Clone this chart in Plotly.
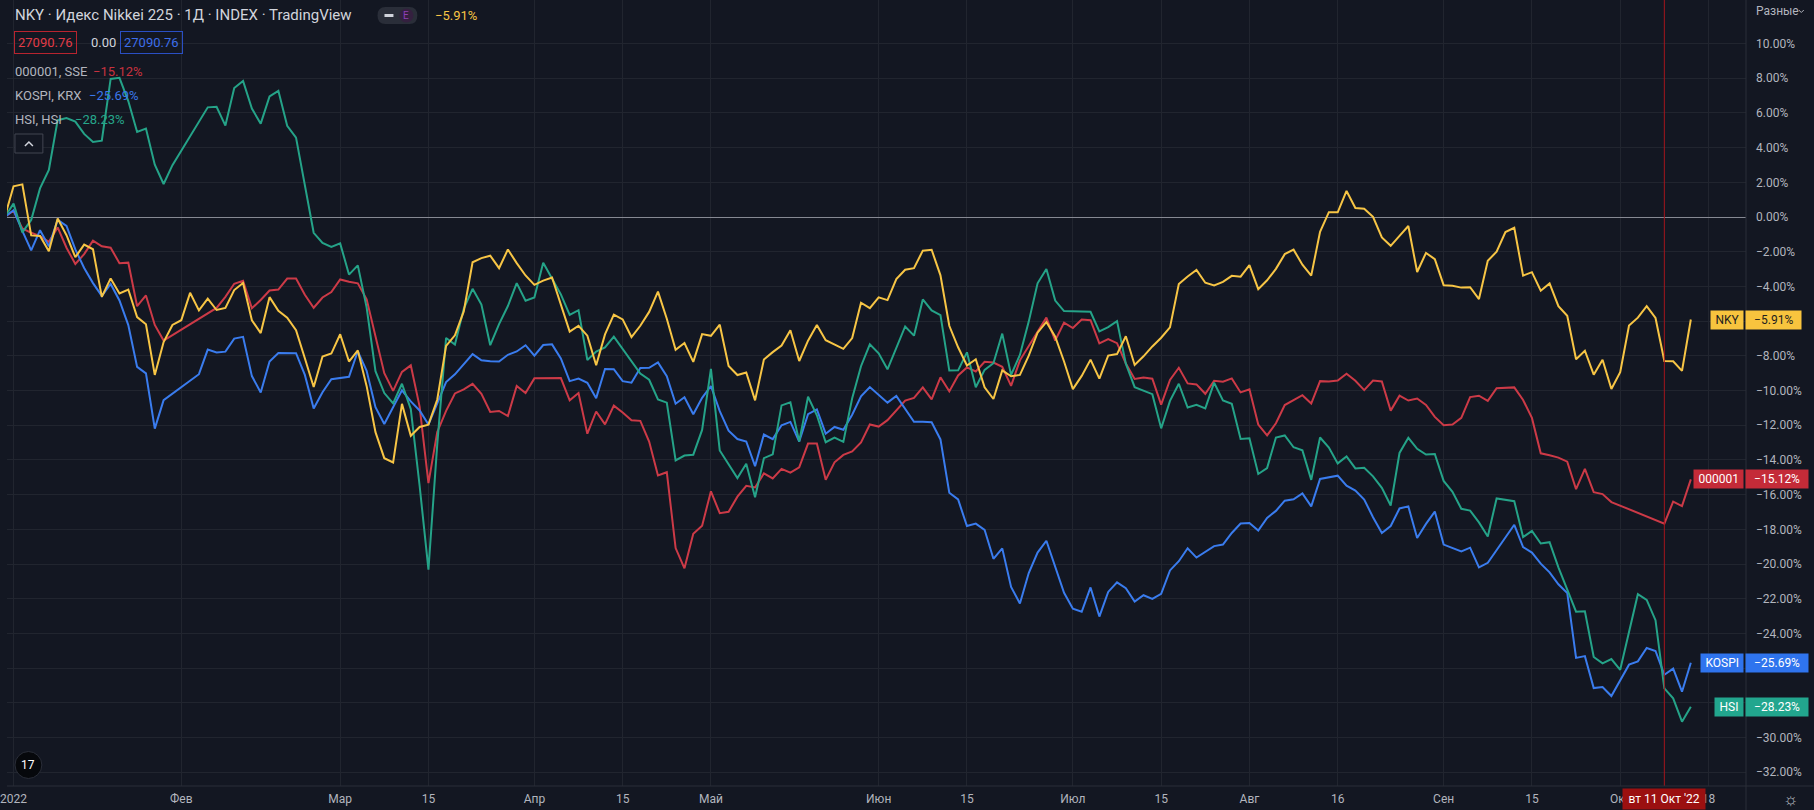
import plotly.graph_objects as go
import pandas as pd

W, H = 1814, 810
PLOT_W, PLOT_H = 1746, 786
FONT = "Roboto, 'Noto Sans', sans-serif"

# Japanese exchange closures (the time scale follows the main symbol NKY)
JP_HOLIDAYS = ["2021-12-31", "2022-01-03", "2022-01-10", "2022-02-11", "2022-02-23",
               "2022-03-21", "2022-04-29", "2022-05-03", "2022-05-04", "2022-05-05",
               "2022-07-18", "2022-08-11", "2022-09-19", "2022-09-23", "2022-10-10"]
DATES = [d.strftime("%Y-%m-%d") for d in
         pd.bdate_range("2021-12-30", "2022-10-14", freq="C", holidays=JP_HOLIDAYS)]

# % change vs first bar (None = market closed that day)
NKY = [0.00, 1.77, 1.88, -1.06, -1.09, -1.98, -0.09, -1.05, -2.32, -1.59,
       -1.86, -4.60, -3.54, -4.41, -4.18, -5.77, -6.18, -9.10, -7.21, -6.22,
       -5.95, -4.37, -5.38, -4.70, -5.36, -5.24, -4.21, -3.80, -5.95, -6.69,
       -4.62, -5.41, -5.80, -6.53, -8.14, -9.80, -8.04, -7.87, -6.76, -8.33,
       -7.69, -9.75, -12.40, -13.90, -14.15, -10.77, -12.61, -12.10, -11.97, -10.52,
       -7.43, -6.82, -5.44, -2.61, -2.37, -2.23, -2.95, -1.87, -2.66, -3.37,
       -3.91, -3.67, -3.49, -5.01, -6.61, -6.27, -6.84, -8.54, -6.77, -5.63,
       -5.90, -6.92, -6.27, -5.47, -4.30, -5.86, -7.65, -7.26, -8.35, -6.75,
       -6.85, -6.21, -8.59, -9.11, -8.96, -10.57, -8.21, -7.79, -7.41, -6.53,
       -8.30, -7.13, -6.22, -7.10, -7.34, -7.60, -6.98, -4.94, -5.25, -4.63,
       -4.79, -3.58, -3.04, -2.95, -1.94, -1.89, -3.36, -6.27, -7.51, -8.56,
       -8.20, -9.82, -10.49, -8.84, -9.18, -9.10, -7.99, -6.67, -6.05, -6.90,
       -8.33, -9.92, -9.16, -8.22, -9.32, -7.99, -7.90, -6.87, -8.53, -8.03,
       -7.46, -6.96, -6.36, -3.86, -3.43, -3.05, -3.79, -3.95, -3.74, -3.39,
       -3.44, -2.77, -4.16, -3.65, -2.99, -2.14, -1.88, -2.75, -3.38, -0.85,
       0.28, 0.27, 1.50, 0.52, 0.48, 0.01, -1.18, -1.66, -1.09, -0.52,
       -3.17, -2.07, -2.43, -3.93, -3.96, -4.07, -4.05, -4.73, -2.52, -2.00,
       -0.87, -0.62, -3.38, -3.18, -4.25, -3.83, -5.14, -5.69, -8.20, -7.71,
       -9.09, -8.23, -9.91, -8.95, -6.25, -5.80, -5.14, -5.82, -8.30, -8.32,
       -8.87, -5.91]

SSE = [0.00, 0.36, -0.66, -0.91, -1.10, -1.43, -0.60, -1.77, -2.71, -2.14,
       -1.36, -1.69, -1.77, -2.67, -2.63, -5.14, -4.52, -6.22, -7.12, None,
       None, None, None, None, -5.24, -4.60, -3.85, -3.68, -5.26, -4.78,
       -4.24, -4.18, -3.55, -3.55, -4.48, -5.23, -4.64, -4.33, -3.60, -3.73,
       -3.82, -4.74, -6.81, -9.00, -10.02, -8.93, -8.55, -10.93, -15.34, -12.39,
       -11.17, -10.17, -9.93, -9.62, -10.19, -11.24, -11.18, -11.47, -9.74, -10.14,
       -9.30, None, None, -9.28, -10.57, -10.15, -12.49, -11.21, -11.95, -10.87,
       -11.27, -11.71, -11.75, -12.94, -14.90, -14.71, -19.08, -20.25, -18.26, -17.79,
       -15.81, -17.07, -16.99, -16.12, -15.49, -15.59, -14.78, -15.07, -14.52, -14.73,
       -14.43, -13.06, -13.05, -15.15, -14.14, -13.71, -13.51, -12.99, -11.96, -12.08,
       -11.71, None, -10.58, -10.43, -9.82, -10.51, -9.24, -10.05, -9.13, -8.67,
       -8.90, -8.35, -8.39, -8.63, -9.73, -8.26, -7.45, -6.63, -5.80, -7.12,
       -6.09, -6.40, -5.91, -5.95, -7.29, -7.04, -7.27, -8.44, -9.33, -9.25,
       -9.32, -10.81, -9.39, -8.69, -9.59, -9.65, -10.19, -9.44, -9.49, -9.30,
       -10.11, -9.93, -11.96, -12.59, -11.89, -10.84, -10.56, -10.27, -10.75, -9.46,
       -9.48, -9.43, -9.03, -9.44, -9.98, -9.43, -9.48, -11.16, -10.30, -10.58,
       -10.46, -10.83, -11.52, -12.00, -11.96, -11.58, -10.38, -10.30, -10.60, -9.87,
       None, -9.82, -10.55, -11.58, -13.62, -13.73, -13.87, -14.10, -15.69, -14.52,
       -15.86, -15.97, -16.43, None, None, None, None, None, -17.67, -16.40,
       -16.66, -15.12]

KOSPI = [0.00, 0.39, -0.80, -1.92, -0.76, -1.69, -0.17, -0.52, -1.87, -2.94,
         -3.81, -4.55, -3.86, -4.81, -6.23, -8.64, -9.01, -12.20, -10.56, None,
         None, None, -9.06, -7.64, -7.81, -7.76, -7.01, -6.91, -9.17, -10.11,
         -8.33, -7.84, -7.83, -7.85, -9.10, -11.04, -10.10, -9.35, None, -9.21,
         -7.74, -8.87, -10.96, -11.93, None, -9.99, -10.63, -11.15, -11.96, -10.69,
         -9.51, -9.07, -8.50, -7.90, -8.26, -8.32, -8.33, -7.94, -7.75, -7.39,
         -7.99, -7.38, -7.34, -8.15, -9.46, -9.31, -9.56, -10.44, -8.76, -8.77,
         -9.46, -9.55, -8.70, -8.69, -8.38, -9.17, -10.76, -10.39, -11.37, -10.42,
         -9.74, -11.19, -12.32, -12.80, -12.94, -14.36, -12.54, -12.80, -12.00, -11.81,
         -12.94, -11.36, -11.09, -12.49, -12.10, -12.26, -11.40, -10.34, -9.80, None,
         -10.70, -10.31, None, -11.80, -11.80, -11.83, -12.82, -15.89, -16.28, -17.81,
         -17.67, -18.03, -19.70, -19.10, -21.32, -22.28, -20.52, -19.34, -18.66, -20.14,
         -21.66, -22.58, -22.75, -21.35, -23.03, -21.61, -21.06, -21.40, -22.16, -21.80,
         -22.01, -21.72, -20.37, -19.84, -19.09, -19.63, -19.28, -18.97, -18.88, -18.21,
         -17.67, -17.64, -18.07, -17.34, -16.94, -16.35, -16.27, -15.93, -16.68, -15.10,
         None, -14.91, -15.49, -15.77, -16.29, -17.30, -18.21, -17.81, -16.80, -16.68,
         -18.50, -17.69, -16.98, -18.88, -19.08, -19.28, -19.06, -20.19, -19.93, None,
         None, -17.74, -19.02, -19.34, -19.98, -20.48, -21.17, -21.67, -25.41, -25.31,
         -27.15, -27.09, -27.61, None, -25.80, -25.61, -24.84, -25.01, -26.38, -26.03,
         -27.36, -25.69]

HSI = [0.00, 0.77, -0.89, -0.17, 1.65, 2.71, 5.58, 5.70, 5.50, 4.79,
       4.33, 4.40, 7.96, 8.02, 6.68, 4.90, 5.10, 3.01, 1.90, 2.99,
       None, None, None, 6.32, 6.35, 5.27, 7.43, 7.84, 6.25, 5.38,
       6.95, 7.27, 5.26, 4.58, 1.77, -0.91, -1.49, -1.73, -1.52, -3.32,
       -2.79, -5.22, -8.89, -10.15, -10.75, -9.61, -11.07, -15.49, -20.32, -13.09,
       -6.97, -7.35, -5.29, -4.14, -5.05, -7.39, -6.17, -5.13, -3.81, -4.83,
       -4.64, -2.64, None, -4.46, -5.64, -5.37, -8.24, -7.76, -7.52, -6.90,
       None, None, -9.02, -9.38, -10.51, -10.70, -14.03, -13.75, -13.70, -12.27,
       -8.75, -13.46, None, -15.05, -14.22, -16.15, -13.90, -13.68, -10.86, -10.68,
       -12.94, -10.36, -11.43, -12.98, -12.72, -12.96, -10.45, -8.60, -7.34, -7.86,
       -8.78, None, -6.31, -6.84, -4.75, -5.38, -5.65, -8.85, -8.84, -7.80,
       -9.81, -8.81, -8.43, -6.72, -9.10, -7.95, -6.03, -3.82, -3.00, -4.82,
       -5.42, None, -5.45, -5.46, -6.60, -6.35, -6.00, -8.45, -9.81, -10.01,
       -10.21, -12.18, -10.60, -9.61, -10.98, -10.83, -11.03, -9.55, -10.57, -10.77,
       -12.79, -12.75, -14.81, -14.47, -12.71, -12.59, -13.27, -13.45, -15.15, -12.71,
       -13.29, -14.20, -13.80, -14.49, -14.45, -14.95, -15.61, -16.63, -13.60, -12.73,
       -13.36, -13.69, -13.66, -15.21, -15.84, -16.82, -16.92, -17.60, -18.42, -16.22,
       None, -16.38, -18.45, -18.09, -18.82, -18.74, -20.19, -21.48, -22.75, -22.72,
       -25.36, -25.73, -25.48, -26.10, None, -21.74, -22.07, -23.24, -27.17, -27.74,
       -29.09, -28.23]

TICK_DATES = ["2022-01-04", "2022-02-01", "2022-03-01", "2022-03-15", "2022-04-01",
              "2022-04-15", "2022-05-02", "2022-06-01", "2022-06-15", "2022-07-01",
              "2022-07-15", "2022-08-01", "2022-08-16", "2022-09-01", "2022-09-15",
              "2022-10-03", "2022-10-18"]
TICK_TEXT = ["2022", "Фев", "Мар", "15", "Апр", "15", "Май", "Июн", "15", "Июл",
             "15", "Авг", "16", "Сен", "15", "Окт", "18"]
Y_TICKS = list(range(-32, 11, 2))
Y_RANGE = [-32.795, 12.507]
X_RANGE = ["2021-12-30 06:14", "2022-10-24 06:00"]
CROSSHAIR_DATE = "2022-10-11"
CROSSHAIR_TEXT = "вт 11 Окт '22"

# name, values, line colour, label colour, label text colour
SERIES = [
    ("000001", SSE, "#CC3A47", "#C42B38", "#FFFFFF"),
    ("KOSPI", KOSPI, "#3A7CEE", "#2F74EE", "#FFFFFF"),
    ("HSI", HSI, "#25A388", "#22A68E", "#FFFFFF"),
    ("NKY", NKY, "#F7C545", "#F8C43E", "#1E1E1E"),
]

BG = "#131722"
GRID = "#21252f"
AXIS_TXT = "#B2B5BE"


def fmt(v):
    return ("\u2212" if v < 0 else "") + f"{abs(v):.2f}%"


def P(px):
    return px / PLOT_W


def Q(py):
    return 1 - py / PLOT_H


fig = go.Figure()
for name, vals, col, _, _ in SERIES:
    fig.add_trace(go.Scatter(x=DATES, y=vals, mode="lines", connectgaps=True,
                             line=dict(color=col, width=2), hoverinfo="skip", name=name))

ann = []


def A(text, x, y, size=12, color=AXIS_TXT, xanchor="left", yanchor="middle", **kw):
    d = dict(text=text, x=P(x), y=Q(y), xref="paper", yref="paper", showarrow=False,
             font=dict(family=FONT, size=size, color=color), xanchor=xanchor, yanchor=yanchor)
    d.update(kw)
    ann.append(d)


# header
A("NKY · Идекс Nikkei 225 · 1Д · INDEX · TradingView", 6, 15.5, size=15, color="#D1D4DC")
A(fmt(NKY[-1]), 428, 15.5, size=13, color="#F7C545")
nky_close = "27090.76"
A(nky_close, 7, 43, size=13, color="#E23B47", bordercolor="#B8242F", borderwidth=1, borderpad=3)
A("0.00", 82, 43, size=13, color="#D1D4DC")
A(nky_close, 113, 43, size=13, color="#3D6EEA", bordercolor="#2A4FC4", borderwidth=1, borderpad=3)
legend_rows = [("000001, SSE", SSE, "#C8323F", 71.5, 84),
               ("KOSPI, KRX", KOSPI, "#3B78EA", 95.5, 80),
               ("HSI, HSI", HSI, "#26A68A", 119, 66)]
for label, vals, col, yy, xv in legend_rows:
    A(label, 6, yy, size=13, color="#B2B5BE")
    A(fmt(vals[-1]), xv, yy, size=13, color=col)

A("Разные", 1754, 11, size=12, color=AXIS_TXT)
A("E", 401, 15.5, size=10, color="#8E3FB5", xanchor="center")
A("17", 21.5, 765, size=12, color="#FFFFFF", xanchor="center")
A("\u263c", 1791, 799, size=17, color=AXIS_TXT, xanchor="center")
A("\u2009" + CROSSHAIR_TEXT + "\u2009", 1664, 799, size=12, color="#FFFFFF", xanchor="center",
  bgcolor="#9B1010", borderpad=3)

# last-value labels on the price scale
for name, vals, col, lab, txt in SERIES:
    v = vals[-1]
    ann.append(dict(text="\u2009" + name + "\u2009", x=P(1744), y=v, xref="paper", yref="y",
                    showarrow=False, xanchor="right", yanchor="middle", bgcolor=lab, borderpad=2,
                    font=dict(family=FONT, size=12, color=txt)))
    ann.append(dict(text="\u2002" + fmt(v) + "\u2002", x=P(1745), y=v, xref="paper", yref="y",
                    showarrow=False, xanchor="left", yanchor="middle", bgcolor=lab, borderpad=2,
                    font=dict(family=FONT, size=12, color=txt)))

shapes = [
    dict(type="line", xref="x", yref="paper", x0=CROSSHAIR_DATE, x1=CROSSHAIR_DATE,
         y0=0, y1=1, line=dict(color="#A3161D", width=1)),
    dict(type="line", xref="paper", yref="paper", x0=0, x1=W / PLOT_W, y0=0, y1=0,
         line=dict(color="#2A2E39", width=1)),
    dict(type="line", xref="paper", yref="paper", x0=1, x1=1, y0=Q(H), y1=1,
         line=dict(color="#2A2E39", width=1)),
    # dropdown chevron next to "Разные"
    dict(type="path", xref="paper", yref="paper",
         path=f"M {P(1799)} {Q(10)} L {P(1801.5)} {Q(12.5)} L {P(1804)} {Q(10)}",
         line=dict(color=AXIS_TXT, width=1)),
    # visibility pill
    dict(type="path", xref="paper", yref="paper",
         path=f"M {P(380)} {Q(7)} L {P(404)} {Q(7)} Q {P(412)} {Q(7)} {P(412)} {Q(15.5)} "
              f"Q {P(412)} {Q(24)} {P(404)} {Q(24)} L {P(380)} {Q(24)} "
              f"Q {P(372)} {Q(24)} {P(372)} {Q(15.5)} Q {P(372)} {Q(7)} {P(380)} {Q(7)} Z",
         fillcolor="#2A2E39", line=dict(width=0)),
    dict(type="rect", xref="paper", yref="paper", x0=P(379), x1=P(388), y0=Q(17), y1=Q(14),
         fillcolor="#D1D4DC", line=dict(width=0)),
    dict(type="circle", xref="paper", yref="paper", x0=P(394), x1=P(408), y0=Q(22.5), y1=Q(8.5),
         fillcolor="#34203F", line=dict(width=0)),
    # collapse button
    dict(type="rect", xref="paper", yref="paper", x0=P(8), x1=P(36), y0=Q(153), y1=Q(134),
         fillcolor=BG, line=dict(color="#434651", width=1)),
    dict(type="path", xref="paper", yref="paper",
         path=f"M {P(18)} {Q(146)} L {P(22)} {Q(142)} L {P(26)} {Q(146)}",
         line=dict(color="#D1D4DC", width=1.5)),
    # logo badge
    dict(type="circle", xref="paper", yref="paper", x0=P(8), x1=P(35), y0=Q(778.5), y1=Q(751.5),
         fillcolor="#06080C", line=dict(color="#2A2E39", width=1)),
]

fig.update_layout(
    width=W, height=H,
    margin=dict(l=0, r=W - PLOT_W, t=0, b=H - PLOT_H),
    paper_bgcolor=BG, plot_bgcolor=BG,
    showlegend=False,
    annotations=ann, shapes=shapes,
    font=dict(family=FONT, size=12, color=AXIS_TXT),
    xaxis=dict(type="date", range=X_RANGE,
               rangebreaks=[dict(bounds=["sat", "mon"]), dict(values=JP_HOLIDAYS)],
               tickmode="array", tickvals=TICK_DATES, ticktext=TICK_TEXT,
               showgrid=True, gridcolor=GRID, gridwidth=1, zeroline=False,
               showline=False, ticks="", ticklabelstandoff=4, ticklabeloverflow="allow",
               tickfont=dict(family=FONT, size=12, color=AXIS_TXT)),
    yaxis=dict(side="right", range=Y_RANGE, tickmode="array", tickvals=Y_TICKS,
               ticktext=[fmt(v) if v != 0 else "0.00%" for v in Y_TICKS],
               showgrid=True, gridcolor=GRID, gridwidth=1,
               zeroline=True, zerolinecolor="#868993", zerolinewidth=1,
               showline=False, ticks="", ticklabelstandoff=9,
               tickfont=dict(family=FONT, size=12, color=AXIS_TXT)),
)

fig.write_html("out.html", config={"displayModeBar": False},
               post_script="document.body.style.margin='0';"
                           "document.body.style.background='#131722';")
